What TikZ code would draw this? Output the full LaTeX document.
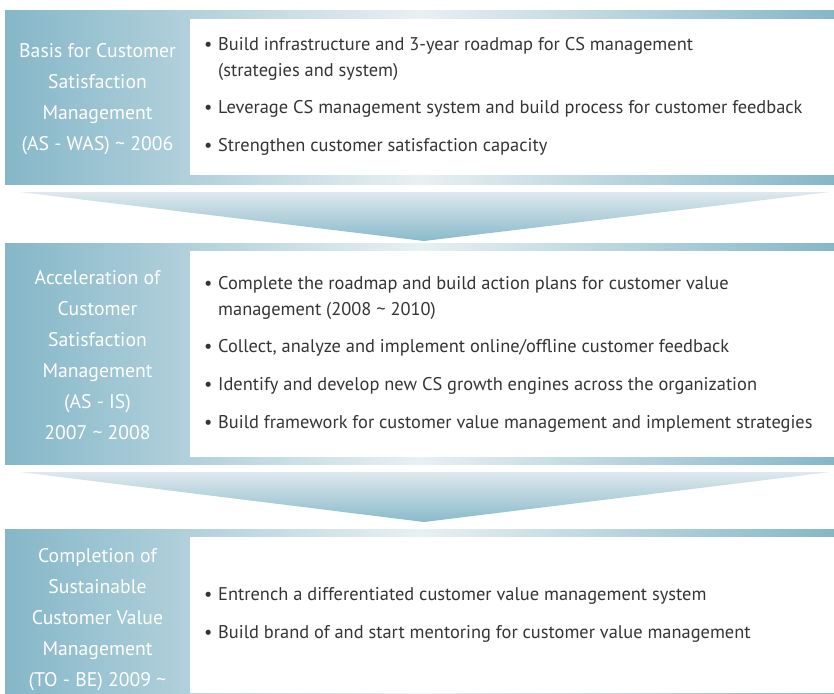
\documentclass[tikz,border=0pt]{standalone}
\usepackage{fontspec}
\setmainfont{PT Sans}
\definecolor{tealdark}{HTML}{85B7C8}
\definecolor{teallight}{HTML}{E8F0F3}
\definecolor{arrowtop}{HTML}{DEE8EE}
\definecolor{arrowbot}{HTML}{89BACA}
\definecolor{txt}{HTML}{353535}
\pgfdeclarehorizontalshading{bandshade}{100bp}{color(0bp)=(tealdark); color(25bp)=(tealdark); color(50bp)=(teallight); color(75bp)=(tealdark); color(100bp)=(tealdark)}
\pgfdeclareverticalshading{arrowshade}{100bp}{color(0bp)=(arrowbot); color(25bp)=(arrowbot); color(75bp)=(arrowtop); color(100bp)=(arrowtop)}
\tikzset{
  band/.style={shading=bandshade, draw=none},
  whitebox/.style={fill=white, draw=none},
  downarrow/.style={shading=arrowshade, draw=none},
  label/.style={text=white, align=center, font=\fontsize{19.7}{31}\selectfont, inner sep=0pt},
  item/.style={text=txt, anchor=mid west, font=\fontsize{18.4}{21}\selectfont, inner sep=0pt},
  bul/.style={text=txt, anchor=mid west, font=\fontsize{18.4}{21}\selectfont, inner sep=0pt},
}
\begin{document}
\begin{tikzpicture}[x=1pt,y=-1pt]
\useasboundingbox (0,0) rectangle (834,693);
% panel 1
\shade[band] (5,11) rectangle (834,184);
\fill[whitebox] (190,19) rectangle (834,175);
\node[label] (l1) at (97.5,99) {Basis for Customer\\Satisfaction\\Management\\(AS - WAS) \textasciitilde{} 2006};
\node[bul] (b11) at (204,48) {•};
\node[item] (t11) at (218,48) {Build infrastructure and 3-year roadmap for CS management};
\node[item] (t11b) at (218,74) {(strategies and system)};
\node[bul] (b12) at (204,111) {•};
\node[item] (t12) at (218,111) {Leverage CS management system and build process for customer feedback};
\node[bul] (b13) at (204,149) {•};
\node[item] (t13) at (218,149) {Strengthen customer satisfaction capacity};
% arrow 1
\shade[downarrow] (20,192) -- (830,192) -- (424,241) -- cycle;
% panel 2
\shade[band] (5,243) rectangle (834,464);
\fill[whitebox] (190,251) rectangle (834,457);
\node[label] (l2) at (97.5,355) {Acceleration of\\Customer\\Satisfaction\\Management\\(AS - IS)\\2007 \textasciitilde{} 2008};
\node[bul] (b21) at (204,287) {•};
\node[item] (t21) at (218,287) {Complete the roadmap and build action plans for customer value};
\node[item] (t21b) at (218,313) {management (2008 \textasciitilde{} 2010)};
\node[bul] (b22) at (204,350) {•};
\node[item] (t22) at (218,350) {Collect, analyze and implement online/offline customer feedback};
\node[bul] (b23) at (204,388) {•};
\node[item] (t23) at (218,388) {Identify and develop new CS growth engines across the organization};
\node[bul] (b24) at (204,426) {•};
\node[item] (t24) at (218,426) {Build framework for customer value management and implement strategies};
% arrow 2
\shade[downarrow] (20,472) -- (830,472) -- (424,522) -- cycle;
% panel 3
\shade[band] (5,529) rectangle (834,693);
\fill[whitebox] (190,537) rectangle (834,693);
\node[label] (l3) at (97.5,620) {Completion of\\Sustainable\\Customer Value\\Management\\(TO - BE) 2009 \textasciitilde{}};
\node[bul] (b31) at (204,598) {•};
\node[item] (t31) at (218,598) {Entrench a differentiated customer value management system};
\node[bul] (b32) at (204,636) {•};
\node[item] (t32) at (218,636) {Build brand of and start mentoring for customer value management};
\end{tikzpicture}
\end{document}
